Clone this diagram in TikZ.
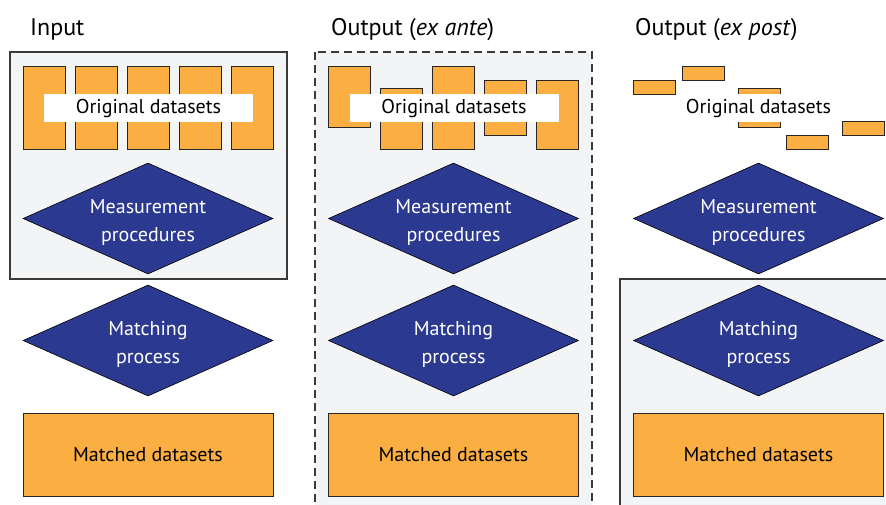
\documentclass[tikz,border=0pt]{standalone}
\usepackage{fontspec}
\setmainfont{PT Sans}
\usetikzlibrary{shapes.geometric}
\definecolor{dataorange}{HTML}{FBAF43}
\definecolor{procblue}{HTML}{2B3990}
\definecolor{panelgray}{HTML}{F3F4F6}
\definecolor{edgegray}{HTML}{3A3A3A}
\begin{document}
\begin{tikzpicture}[x=1pt,y=-1pt,font=\fontsize{20}{28}\selectfont]
\tikzstyle{panel}=[fill=panelgray, draw=edgegray, line width=1.2pt]
\tikzstyle{data}=[draw=black!85, fill=dataorange, line width=1pt, inner sep=0pt, minimum width=42pt]
\tikzstyle{label}=[fill=white, inner sep=0pt, minimum width=209pt, minimum height=28pt]
\tikzstyle{proc}=[diamond, draw=black, fill=procblue, text=white, line width=0.6pt, aspect=2.25, inner sep=0pt, minimum width=250pt, minimum height=111pt, align=center, text height=50pt, text depth=5pt]
\tikzstyle{result}=[draw=black!85, fill=dataorange, line width=1pt, minimum width=250pt, minimum height=83pt]
\tikzstyle{title}=[anchor=base west, inner sep=0pt, font=\fontsize{24}{28}\selectfont]
\useasboundingbox (0,0) rectangle (886,504);
\clip (0,0) rectangle (886,504);
% panels
\draw[panel] (10,52) rectangle (287,279);
\draw[panel, dash pattern=on 8pt off 5pt] (315,52) rectangle (592,515);
\draw[panel] (620,279) rectangle (895,515);
% titles
\node[title] (tin) at (30,35) {Input};
\node[title] (tante) at (331,35) {Output (\textit{ex ante})};
\node[title] (tpost) at (635,35) {Output (\textit{ex post})};
% input
\node[data, minimum height=83pt] (a1) at (44.5,107.5) {};
\node[data, minimum height=83pt] (a2) at (96.5,107.5) {};
\node[data, minimum height=83pt] (a3) at (148.5,107.5) {};
\node[data, minimum height=83pt] (a4) at (200.5,107.5) {};
\node[data, minimum height=83pt] (a5) at (252.5,107.5) {};
\node[label] (orig1) at (148.5,108) {Original datasets};
\node[proc] (meas1) at (148,218.5) {Measurement\\procedures};
\node[proc] (match1) at (148,340.5) {Matching\\process};
\node[result] (res1) at (148,454.5) {Matched datasets};
% ex ante
\node[data, minimum height=61pt] (b1) at (349.5,96.5) {};
\node[data, minimum height=61pt] (b2) at (401,118.5) {};
\node[data, minimum height=83pt] (b3) at (453.5,107.5) {};
\node[data, minimum height=55pt] (b4) at (505.5,107.5) {};
\node[data, minimum height=69pt] (b5) at (557.5,114.5) {};
\node[label] (orig2) at (454,108) {Original datasets};
\node[proc] (meas2) at (453.5,218.5) {Measurement\\procedures};
\node[proc] (match2) at (453.5,340.5) {Matching\\process};
\node[result] (res2) at (453.5,454.5) {Matched datasets};
% ex post
\node[data, minimum height=14pt] (c1) at (654.5,87) {};
\node[data, minimum height=14pt] (c2) at (703.5,73) {};
\node[data, minimum height=39pt] (c3) at (759,107.5) {};
\node[data, minimum height=14pt] (c4) at (807,142) {};
\node[data, minimum height=14pt] (c5) at (863,128.5) {};
\node[label, minimum width=150pt] (orig3) at (758.5,108) {Original datasets};
\node[proc] (meas3) at (758.5,218.5) {Measurement\\procedures};
\node[proc] (match3) at (758.5,340.5) {Matching\\process};
\node[result] (res3) at (758.5,454.5) {Matched datasets};
\end{tikzpicture}
\end{document}
